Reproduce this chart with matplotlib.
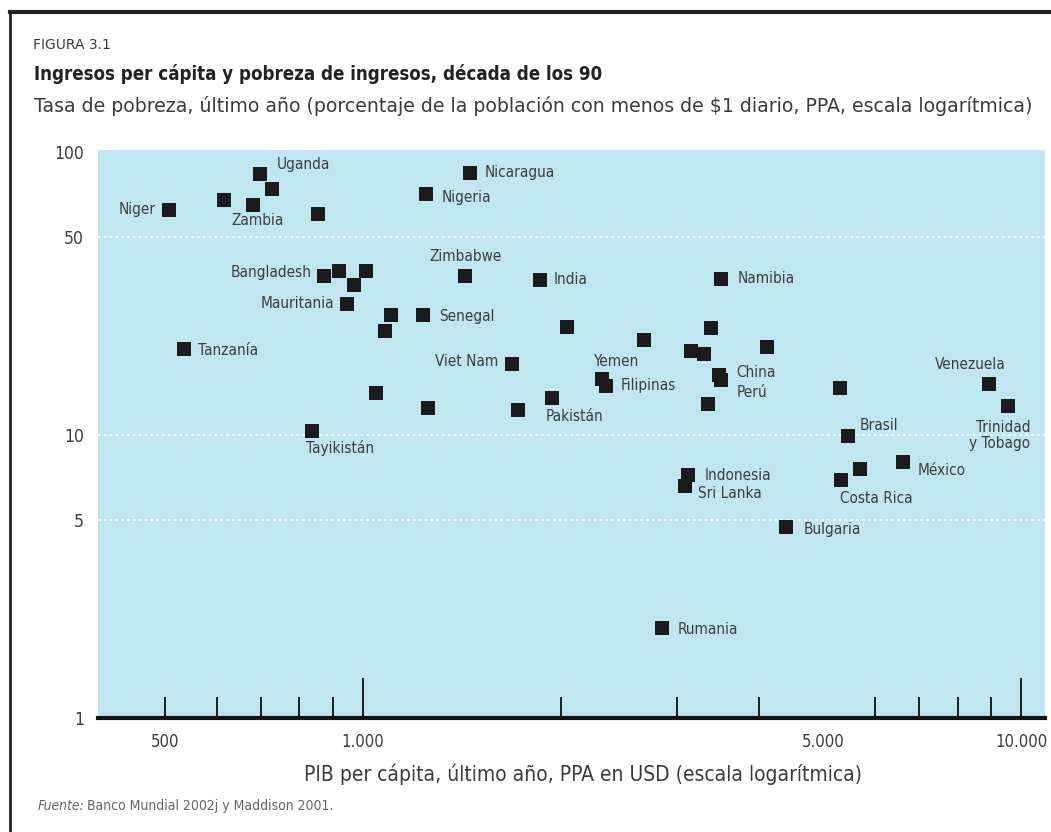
import matplotlib
matplotlib.use("Agg")
import matplotlib.pyplot as plt
from matplotlib.lines import Line2D
from matplotlib.ticker import FixedLocator, NullFormatter

plt.rcParams['font.family'] = ['DejaVu Sans']
plt.rcParams['font.stretch'] = 'condensed'

# datos
pib = [507, 697, 728, 614, 679, 853, 1455, 1247, 1429, 873, 918, 1009, 970,
       946, 1104, 1081, 1233, 535, 1683, 1045, 1256, 1719, 835, 1856, 2042,
       1938, 2306, 2339, 2667, 3143, 3289, 3372, 3501, 3478, 3500, 3336, 4111,
       5304, 5456, 8933, 9546, 6610, 5690, 5327, 3111, 3079, 4394, 2845]
pobreza = [62.4, 83.6, 74, 67.6, 65, 60.4, 84.3, 71, 36.5, 36.5, 38, 38, 33.7,
           29, 26.5, 23.3, 26.5, 20.1, 17.8, 14, 12.4, 12.2, 10.3, 35.3, 24.1,
           13.5, 15.8, 14.9, 21.7, 19.8, 19.3, 23.9, 35.6, 16.3, 15.6, 12.9, 20.5,
           14.6, 9.9, 15.1, 12.6, 8.0, 7.6, 6.9, 7.2, 6.6, 4.73, 2.08]
# índice del punto, texto, desplazamiento (px), alineación
etiquetas = [
    (0, "Niger", (-13, 0), 'right'),
    (1, "Uganda", (17, 9), 'left'),
    (4, "Zambia", (5, -16), 'center'),
    (6, "Nicaragua", (14, 0), 'left'),
    (7, "Nigeria", (15, -4), 'left'),
    (8, "Zimbabwe", (0, 19), 'center'),
    (9, "Bangladesh", (-13, 3), 'right'),
    (13, "Mauritania", (-13, 0), 'right'),
    (16, "Senegal", (16, -1), 'left'),
    (17, "Tanzanía", (14, -1), 'left'),
    (18, "Viet Nam", (-14, 2), 'right'),
    (22, "Tayikistán", (-6, -17), 'left'),
    (23, "India", (14, 0), 'left'),
    (25, "Pakistán", (-7, -19), 'left'),
    (26, "Yemen", (-9, 17), 'left'),
    (27, "Filipinas", (15, 0), 'left'),
    (32, "Namibia", (16, 0), 'left'),
    (33, "China", (17, 2), 'left'),
    (34, "Perú", (15, -12), 'left'),
    (38, "Brasil", (11, 11), 'left'),
    (39, "Venezuela", (-19, 20), 'center'),
    (40, "Trinidad\ny Tobago", (22, -29), 'right'),
    (41, "México", (15, -8), 'left'),
    (43, "Costa Rica", (-1, -18), 'left'),
    (44, "Indonesia", (17, 0), 'left'),
    (45, "Sri Lanka", (13, -8), 'left'),
    (46, "Bulgaria", (17, -3), 'left'),
    (47, "Rumania", (16, -2), 'left'),
]

x_ticks = [500, 1000, 5000, 10000]
x_ticklabels = ["500", "1.000", "5.000", "10.000"]
x_minor = [500, 600, 700, 800, 900, 2000, 3000, 4000, 6000, 7000, 8000, 9000]
y_ticks = [1, 5, 10, 50, 100]

gris = '#3c3c3c'

fig = plt.figure(figsize=(10.51, 8.32), dpi=100)
ax = fig.add_axes([98 / 1051, 0.137, 947 / 1051, 0.683])
ax.set_facecolor('#c0e6f2')
ax.set_xscale('log')
ax.set_yscale('log')
ax.set_xlim(395.5, 10860)
ax.set_ylim(1, 101.6)

for g in [5, 10, 50]:
    ax.axhline(g, color='white', lw=1.2, ls=(0, (1.5, 2)), zorder=1)

ax.scatter(pib, pobreza, marker='s', s=95, color='#1a1a1a', zorder=3, linewidths=0)

for i, txt, off, ha in etiquetas:
    ax.annotate(txt, (pib[i], pobreza[i]), xytext=off, textcoords='offset pixels',
                ha=ha, va='center', fontsize=11, color=gris, multialignment=ha,
                linespacing=1.1, zorder=4)

for s in ['top', 'right', 'left']:
    ax.spines[s].set_visible(False)
ax.spines['bottom'].set_linewidth(3)
ax.spines['bottom'].set_color('#111111')

ax.xaxis.set_major_locator(FixedLocator([1000, 10000]))
ax.xaxis.set_minor_locator(FixedLocator(x_minor))
ax.xaxis.set_major_formatter(NullFormatter())
ax.xaxis.set_minor_formatter(NullFormatter())
ax.tick_params(axis='x', which='major', direction='in', length=29, width=1.3, color='#111111')
ax.tick_params(axis='x', which='minor', direction='in', length=15, width=1.3, color='#111111')
for xv, lab in zip(x_ticks, x_ticklabels):
    ax.annotate(lab, (xv, 0), xycoords=('data', 'axes fraction'), xytext=(0, -24),
                textcoords='offset pixels', ha='center', va='center',
                fontsize=12, color=gris)

ax.yaxis.set_major_locator(FixedLocator(y_ticks))
ax.yaxis.set_minor_locator(FixedLocator([]))
ax.set_yticklabels([str(v) for v in y_ticks])
ax.tick_params(axis='y', length=0, pad=10, labelsize=12.5, labelcolor=gris)

ax.set_xlabel("PIB per cápita, último año, PPA en USD (escala logarítmica)",
              fontsize=15, color=gris)
ax.xaxis.set_label_coords((583 - 98) / 947, -45 / 568)

fig.text(33 / 1051, 1 - 45 / 832, "FIGURA 3.1", fontsize=10, color=gris,
         va='center', fontstretch='normal')
fig.text(34 / 1051, 1 - 74 / 832,
         "Ingresos per cápita y pobreza de ingresos, década de los 90",
         fontsize=13.4, fontweight='bold', color='#222222', va='center')
fig.text(34 / 1051, 1 - 106 / 832,
         "Tasa de pobreza, último año (porcentaje de la población con menos de $1 diario, PPA, escala logarítmica)",
         fontsize=13.6, color=gris, va='center', fontstretch='normal')
fig.text(38 / 1051, 1 - 806 / 832, "Fuente:", fontsize=10, style='italic',
         color='#666666', va='center')
fig.text(87 / 1051, 1 - 806 / 832, "Banco Mundial 2002j y Maddison 2001.",
         fontsize=10, color='#666666', va='center')

# marco de la figura
fig.add_artist(Line2D([10 / 1051, 10 / 1051], [0, 1 - 12 / 832], color='#222222', lw=2))
fig.add_artist(Line2D([10 / 1051, 1], [1 - 12 / 832, 1 - 12 / 832], color='#222222', lw=3))

fig.savefig("out.png", dpi=100)
